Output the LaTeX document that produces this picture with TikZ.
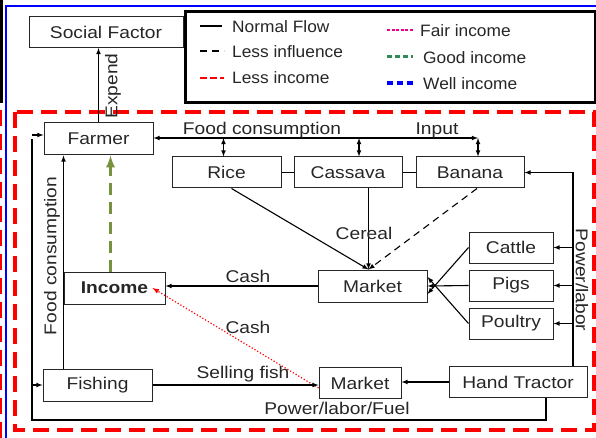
\documentclass[tikz,border=0pt]{standalone}
\usepackage{fontspec}
\setmainfont[FakeStretch=1.13]{Liberation Sans}
\newfontfamily\legfont[FakeStretch=1.05]{Liberation Sans}
\usetikzlibrary{positioning}
\usetikzlibrary{arrows}
\definecolor{verdeoliva}{RGB}{118,146,60}
\definecolor{verdemare}{RGB}{46,139,87}

\begin{document}
\begin{tikzpicture}[x=1pt,y=-1pt,font=\fontsize{17}{19}\selectfont,text=black!85,
box/.style={draw=black!85,line width=1pt,minimum height=31pt,inner sep=0pt},
etich/.style={inner sep=1pt},
voce/.style={anchor=west,inner sep=0pt,font=\legfont\fontsize{16.5}{18}\selectfont},
flusso/.style={line width=1.1pt,-latex},
spesso/.style={line width=2pt}
]
\useasboundingbox (0,0) rectangle (596,438);
% cornici
\draw[line width=3pt] (1,0) -- (1,103);
\draw[red,line width=2pt,dash pattern=on 16pt off 8pt] (0.5,110) -- (0.5,438);
\draw[blue,line width=2.5pt] (6,438) -- (6,6) -- (596,6);
\draw[red,line width=3.5pt,dash pattern=on 16pt off 8pt] (15,112) rectangle (594,430);
%-- legenda
\draw[line width=3pt] (185,12) rectangle (595,103);
\draw[line width=1.5pt] (200,26) -- (222,26);
\node[voce](l1) at (232,27){Normal Flow};
\draw[line width=1.5pt,dash pattern=on 7pt off 5pt] (200,51) -- (224,51);
\node[voce](l2) at (232,52){Less influence};
\draw[red,line width=2pt,dash pattern=on 7pt off 3pt] (200,78) -- (224,78);
\node[voce](l3) at (232,78){Less income};
\draw[magenta,line width=2pt,dash pattern=on 3pt off 1.5pt] (387,30) -- (413,30);
\node[voce](l4) at (420,31){Fair income};
\draw[verdemare,line width=3pt,dash pattern=on 5pt off 3pt] (387,57) -- (413,57);
\node[voce](l5) at (423,58){Good income};
\draw[blue,line width=4pt,dash pattern=on 6pt off 4pt] (387,83) -- (413,83);
\node[voce](l6) at (423,84){Well income};
%-- nodi
\node[box,minimum width=154pt](social) at (106,32){Social Factor};
\node[box,minimum width=109pt,minimum height=32pt](farmer) at (98.5,139){Farmer};
\node[box,minimum width=109pt](rice) at (226.5,172.5){Rice};
\node[box,minimum width=108pt,right=12pt of rice](cassava){Cassava};
\node[box,minimum width=108pt,right=13pt of cassava](banana){Banana};
\node[box,minimum width=109pt,minimum height=32pt](market) at (372.5,286){Market};
\node[box,minimum width=84pt](cattle) at (511,247.5){Cattle};
\node[box,minimum width=84pt,below=6pt of cattle](pigs){Pigs};
\node[box,minimum width=84pt,below=6pt of pigs](poultry){Poultry};
\node[box,minimum width=101pt,minimum height=32pt,font=\fontsize{17}{19}\selectfont\bfseries](income) at (114.5,288){Income};
\node[box,minimum width=109pt,minimum height=32pt](fishing) at (97.5,385){Fishing};
\node[box,minimum width=82pt](market2) at (360,383){Market};
\node[box,minimum width=138pt](tractor) at (518,382){Hand Tractor};
%-- punti
\coordinate (inp) at (478,138);
\coordinate (pw) at (573,172.5);
\coordinate (bl) at (32,420);
%-- collegamenti
\draw [flusso] (farmer.north) -- (farmer.north |- social.south);
\draw [latex-latex,line width=1.1pt] (farmer.east |- inp) -- (inp);
\draw [latex-latex,line width=1.1pt] ([xshift=-3pt]rice.north |- inp) -- ([xshift=-3pt]rice.north);
\draw [latex-latex,line width=1.1pt] ([xshift=11pt]cassava.north |- inp) -- ([xshift=11pt]cassava.north);
\draw [latex-latex,line width=1.1pt] (inp) -- (inp |- banana.north);
\draw [line width=1pt] (rice) -- (cassava);
\draw [line width=1pt] (cassava) -- (banana);
\draw [flusso] ([xshift=5pt]rice.south) -- ([xshift=-4pt]market.north);
\draw [flusso] ([xshift=-4pt]market.north |- cassava.south) -- ([xshift=-4pt]market.north);
\draw [flusso,dash pattern=on 7pt off 5pt] ([xshift=7pt]banana.south) -- ([xshift=-4pt]market.north);
\draw [flusso] (cattle.west) -- ([yshift=-8pt]market.east);
\draw [flusso] (pigs.west) -- (market.east);
\draw [flusso] (poultry.west) -- ([yshift=9pt]market.east);
\draw [flusso] (market.west) -- (market.west -| income.east);
\draw [flusso] (fishing.north -| income.west) -- (farmer.south -| income.west);
\draw [verdeoliva,line width=3pt,dash pattern=on 12pt off 7pt,-latex] ([xshift=-4pt]income.north) -- ([xshift=-4pt]income.north |- farmer.south);
\draw [red,line width=1.2pt,dotted,-latex] ([yshift=-5pt]market2.west) -- ([xshift=-13pt]income.east);
\draw [flusso] (fishing.east) -- (fishing.east -| market2.west);
\draw [flusso] (tractor.west) -- (tractor.west -| market2.east);
\draw [spesso] (tractor.north -| pw) -- (pw);
\draw [flusso] (pw) -- (banana.east);
\draw [flusso] (cattle.east -| pw) -- (cattle.east);
\draw [flusso] (pigs.east -| pw) -- (pigs.east);
\draw [flusso] (poultry.east -| pw) -- (poultry.east);
\draw [spesso] ([xshift=28pt]tractor.south) |- (bl) -- (bl |- farmer.west);
\draw [flusso] ([yshift=4pt]bl |- farmer.west) -- ([yshift=4pt]farmer.west);
\draw [flusso] (bl |- fishing.west) -- (fishing.west);
%-- etichette
\node[etich,rotate=90](lexp) at (113,86){Expend};
\node[etich](lfood) at (262,130){Food consumption};
\node[etich](linp) at (437,130){Input};
\node[etich](lcer) at (364,233){Cereal};
\node[etich](lcash) at (248,276){Cash};
\node[etich](lcash2) at (248,327){Cash};
\node[etich](lsell) at (243,374){Selling fish};
\node[etich](lpow) at (337,408){Power/labor/Fuel};
\node[etich,rotate=90](lfc) at (52,256){Food consumption};
\node[etich,rotate=-90](lpl) at (582,280){Power/labor};
\end{tikzpicture}
\end{document}
